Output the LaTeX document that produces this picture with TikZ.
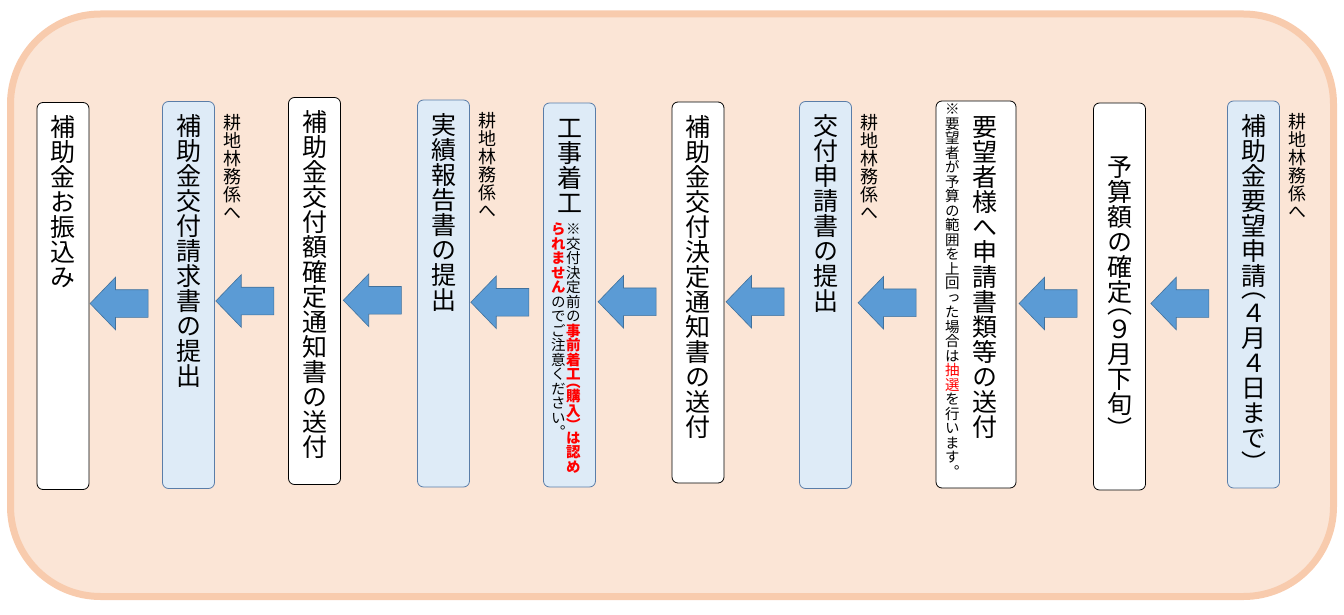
\documentclass[tikz,border=0pt]{standalone}
\usepackage{fontspec}
\usepackage{xcolor}
\newfontfamily\tatev[RawFeature=+vert]{Noto Sans CJK JP}
\usetikzlibrary{positioning,calc,shapes.arrows}
\definecolor{bgfill}{HTML}{FBE5D6}
\definecolor{bgline}{HTML}{F8CBAD}
\definecolor{boxblue}{HTML}{DEEBF7}
\definecolor{boxline}{HTML}{5A7DA8}
\definecolor{arrowfill}{HTML}{5B9BD5}
\definecolor{arrowline}{HTML}{41719C}
% one glyph cell, and a half cell for the brackets
\newcommand{\fullcell}{\vrule height .88em depth .12em width 0pt}
\newcommand{\halfcell}{\vrule height .38em depth .12em width 0pt}
\ExplSyntaxOn
\NewDocumentCommand \vcol { O{} m }
  {
    \tl_map_inline:nn {#2}
      {
        \str_case:nnF {##1}
          {
            {（} { \hbox_to_wd:nn {1em} { \hss #1 \halfcell ##1 \hss } }
            {）} { \hbox_to_wd:nn {1em} { \hss #1 \halfcell \lower.5em\hbox{##1} \hss } }
          }
          { \hbox_to_wd:nn {1em} { \hss #1 \fullcell ##1 \hss } }
      }
  }
\ExplSyntaxOff
% a vertical column hanging from its top
\newcommand{\colm}[2]{\vtop{\vskip0pt\fontsize{#1}{#1}\selectfont\tatev\offinterlineskip #2}}
\tikzset{%
  frame/.style  = {draw=bgline, fill=bgfill, line width=7pt, rounded corners=90pt},
  stepw/.style  = {draw=black, fill=white, line width=0.8pt, rounded corners=6pt,
    minimum width=52pt, minimum height=387pt, inner sep=0pt}, % white step
  stepb/.style  = {stepw, draw=boxline, fill=boxblue}, % step sent to the office
  flow/.style   = {single arrow, draw=arrowline, fill=arrowfill, line width=0.6pt,
    shape border rotate=180, minimum height=58pt, inner xsep=0pt, inner ysep=13.5pt,
    single arrow head extend=12.5pt, single arrow tip angle=92},
  dept/.style   = {inner sep=0pt}
}

\begin{document}
\begin{tikzpicture}[x=1pt, y=-1pt]
  \useasboundingbox (0,0) rectangle (1344,615);
  \draw[frame] (10.5,14) rectangle (1333.5,596.5);

  \draw node at (63,296) [stepw] (furikomi) {\vbox to 363pt{\colm{25pt}{\vcol{補助金お振込み}}\vss}};
  \draw node at (188.5,295) [stepb] (seikyu) {\vbox to 363pt{\colm{25pt}{\vcol{補助金交付請求書の提出}}\vss}};
  \draw node at (314.5,291) [stepw] (kakutei) {\vbox to 363pt{\colm{25pt}{\vcol{補助金交付額確定通知書の送付}}\vss}};
  \draw node at (443.5,293.5) [stepb] (jisseki) {\vbox to 363pt{\colm{25pt}{\vcol{実績報告書の提出}}\vss}};
  \draw node at (569.5,295) [stepb, minimum height=384pt] (chakko) {\vbox to 360pt{\offinterlineskip
    \hbox to 52pt{\hss\colm{25pt}{\vcol{工事着工}}\hss}\vskip 7pt
    \hbox to 52pt{\hskip 7.5pt\colm{14.5pt}{\vcol[\color{red}\bfseries]{られません}\vcol{のでご注意ください。}}%
      \hskip 0.5pt\colm{14.5pt}{\vcol{※交付決定前の}\vcol[\color{red}\bfseries]{事前着工（購入）は認め}}\hss}\vss}};
  \draw node at (698,292.5) [stepw, minimum height=381pt] (kettei) {\vbox to 357pt{\colm{25pt}{\vcol{補助金交付決定通知書の送付}}\vss}};
  \draw node at (825.5,295) [stepb] (shinsei) {\vbox to 363pt{\colm{25pt}{\vcol{交付申請書の提出}}\vss}};
  \draw node at (976,294.5) [stepw, minimum width=80pt] (soufu) {\vbox to 385pt{%
    \hbox to 80pt{\hskip 9pt\colm{14.5pt}{\vcol{※要望者が予算の範囲を上回った場合は}\vcol[\color{red}]{抽選}\vcol{を行います。}}%
      \hskip 13pt\colm{25pt}{\vskip 12pt\vcol{要望者様へ申請書類等の送付}}\hss}\vss}};
  \draw node at (1119.5,296.5) [stepw] (yosan) {\vbox to 363pt{\vss\colm{25pt}{\vcol{予算額の確定（９月下旬）}}\vss}};
  \draw node at (1253.5,294.5) [stepb] (youbou) {\vbox to 363pt{\colm{25pt}{\vcol{補助金要望申請（４月４日まで）}}\vss}};

  % to the office
  \foreach \n in {youbou, shinsei, jisseki, seikyu}
    \node[dept, below right=12pt and 8pt of \n.north east] {\colm{18pt}{\vcol{耕地林務係へ}}};

  % flow arrows
  \foreach \a/\b in {furikomi/seikyu, seikyu/kakutei, kakutei/jisseki, jisseki/chakko,
    chakko/kettei, kettei/shinsei, shinsei/soufu, soufu/yosan, yosan/youbou}
    \draw node at ($(\a.east)!0.5!(\b.west)+(0,8)$) [flow] {};

\end{tikzpicture}
\end{document}
